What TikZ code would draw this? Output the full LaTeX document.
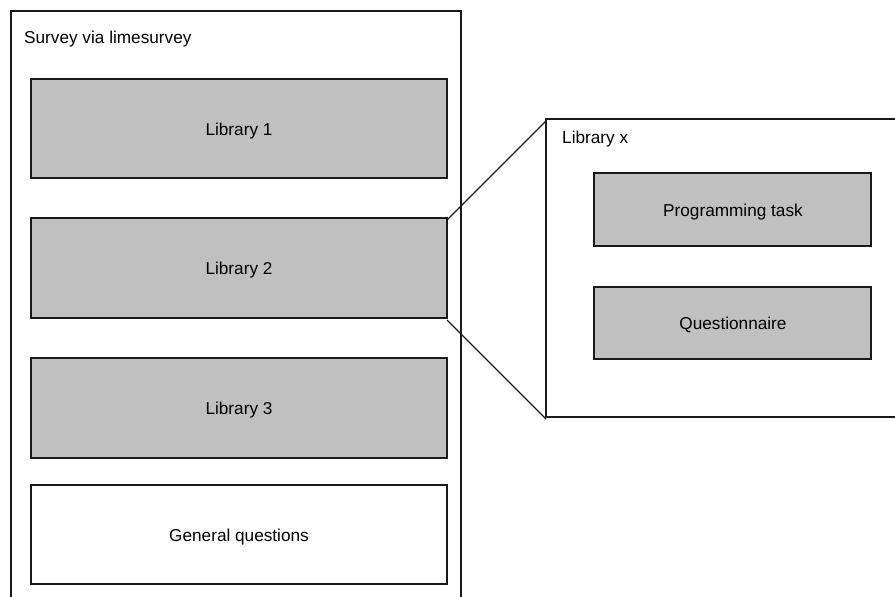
\documentclass[tikz,border=0pt]{standalone}
\usepackage{fontspec}
\setmainfont{Liberation Sans}
\definecolor{boxgray}{HTML}{C0C0C0}
\begin{document}
\begin{tikzpicture}[x=1pt,y=-1pt,
  every node/.style={font=\fontsize{17.2}{20}\selectfont, inner sep=0pt, yshift=-2pt},
  frame/.style={draw=black!90, line width=1.3pt, fill=white},
  block/.style={draw=black!90, line width=1.3pt, fill=boxgray},
  plainblock/.style={draw=black!90, line width=1.3pt, fill=white},
  link/.style={draw=black!90, line width=1.3pt}]
\useasboundingbox (0,0) rectangle (895,597);
\clip (0,0) rectangle (895,597);
% outer survey frame (runs past the lower edge)
\draw[frame] (11,11) rectangle (461,640);
\node[anchor=west] (survey) at (24,37) {Survey via limesurvey};
% library blocks
\draw[block] (31,79) rectangle (447,178);
\node (lib1) at (239,129) {Library 1};
\draw[block] (31,218) rectangle (447,318);
\coordinate (l2ne) at (447,218);
\coordinate (l2se) at (447,318);
\node (lib2) at (239,268) {Library 2};
\draw[block] (31,358) rectangle (447,458);
\node (lib3) at (239,408) {Library 3};
\draw[plainblock] (31,485) rectangle (447,584);
\node (gen) at (239,535) {General questions};
% detail frame (runs past the right edge)
\draw[frame] (940,119) -- (546,119) -- (546,417) -- (940,417);
\coordinate (xnw) at (546,119);
\coordinate (xsw) at (546,417);
\node[anchor=west] (libx) at (562,137) {Library x};
\draw[block] (594,173) rectangle (871,246);
\node (prog) at (733,210) {Programming task};
\draw[block] (594,287) rectangle (871,359);
\node (quest) at (733,323) {Questionnaire};
% zoom connectors
\draw[link] (l2ne) -- (xnw);
\draw[link] (l2se) -- (xsw);
\end{tikzpicture}
\end{document}
